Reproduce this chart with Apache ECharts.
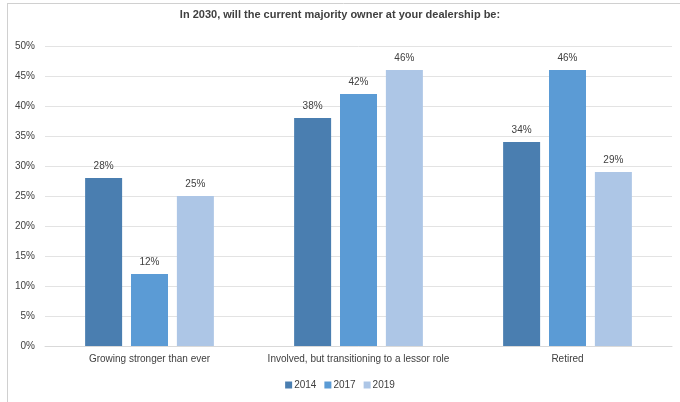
<!DOCTYPE html>
<html>
<head>
<meta charset="utf-8">
<script src="https://cdn.jsdelivr.net/npm/echarts@6/dist/echarts.min.js"></script>
<style>
  html, body { margin: 0; padding: 0; background: #fff; }
  #chart { width: 680px; height: 402px; }
</style>
</head>
<body>
<div id="chart"></div>
<script>
var categories = ['Growing stronger than ever', 'Involved, but transitioning to a lessor role', 'Retired'];
var years = ['2014', '2017', '2019'];
var values2014 = [28, 38, 34];
var values2017 = [12, 42, 46];
var values2019 = [25, 46, 29];
var yTicks = [0, 5, 10, 15, 20, 25, 30, 35, 40, 45, 50];

var colors = ['#4a7eb0', '#5b9bd5', '#adc6e6'];
var allValues = [values2014, values2017, values2019];

var chart = echarts.init(document.getElementById('chart'));

// 系列
var series = years.map(function (y, i) {
  return {
    name: y,
    type: 'bar',
    data: allValues[i],
    barWidth: 37,
    barGap: '24%',
    itemStyle: { color: colors[i] },
    label: {
      show: true,
      position: 'top',
      distance: 7,
      formatter: '{c}%',
      color: '#404040',
      fontSize: 10,
      fontFamily: 'Liberation Sans'
    }
  };
});

var options = {
  animation: false,
  backgroundColor: '#fff',
  title: {
    text: 'In 2030, will the current majority owner at your dealership be:',
    left: 'center',
    top: 4,
    textStyle: {
      color: '#404040',
      fontSize: 11,
      fontWeight: 'bold',
      fontFamily: 'Liberation Sans'
    }
  },
  legend: {
    data: years,
    bottom: 7,
    left: 'center',
    itemWidth: 7,
    itemHeight: 7,
    itemGap: 8,
    icon: 'rect',
    textStyle: { color: '#404040', fontSize: 10, fontFamily: 'Liberation Sans', padding: [0, 0, 0, -3] }
  },
  grid: { left: 45, right: 8, top: 46, bottom: 56 },
  xAxis: {
    type: 'category',
    data: categories,
    axisLine: { lineStyle: { color: '#d9d9d9' } },
    axisTick: { show: false },
    axisLabel: { interval: 0, color: '#404040', fontSize: 10, fontFamily: 'Liberation Sans', margin: 8 }
  },
  yAxis: {
    type: 'value',
    min: yTicks[0],
    max: yTicks[yTicks.length - 1],
    interval: 5,
    axisLine: { show: false },
    axisTick: { show: false },
    axisLabel: {
      formatter: '{value}%',
      color: '#404040',
      fontSize: 10,
      fontFamily: 'Liberation Sans',
      margin: 10
    },
    splitLine: { lineStyle: { color: '#e3e3e3' } }
  },
  graphic: [
    { type: 'line', shape: { x1: 7.5, y1: 3, x2: 7.5, y2: 402 }, style: { stroke: '#d0d0d0', lineWidth: 1 } },
    { type: 'line', shape: { x1: 7, y1: 3.5, x2: 680, y2: 3.5 }, style: { stroke: '#d0d0d0', lineWidth: 1 } }
  ],
  series: series
};

chart.setOption(options);
</script>
</body>
</html>
